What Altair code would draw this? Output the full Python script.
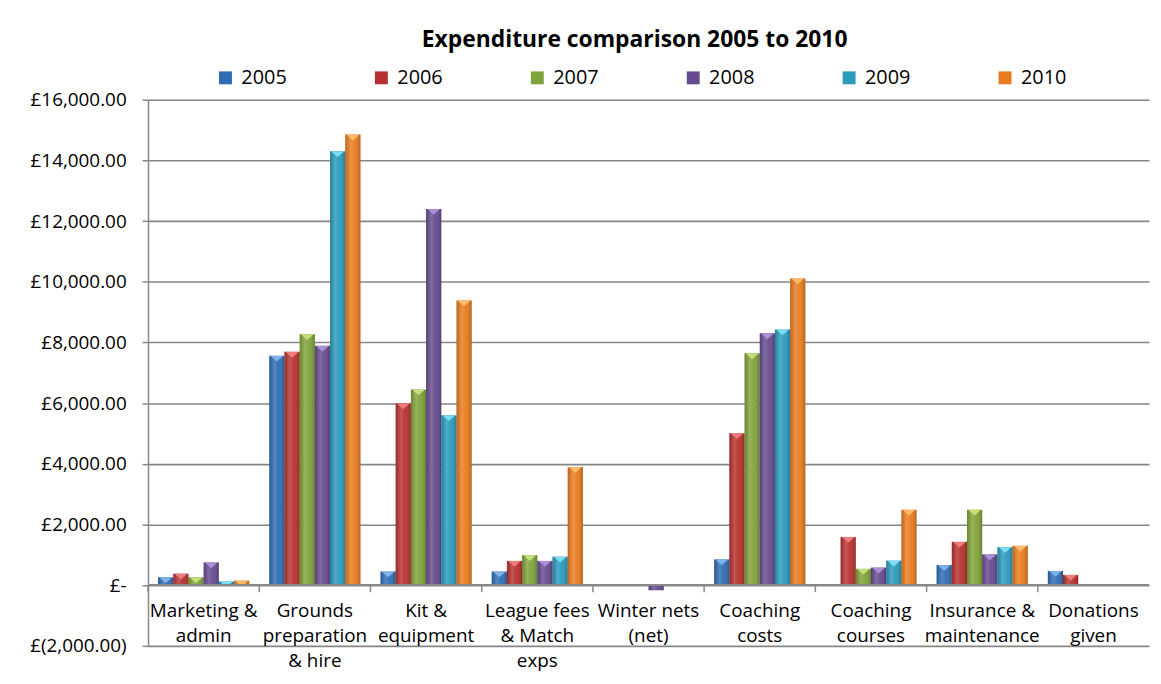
import altair as alt
import pandas as pd

categories = [
    "Marketing & admin",
    "Grounds preparation & hire",
    "Kit & equipment",
    "League fees & Match exps",
    "Winter nets (net)",
    "Coaching costs",
    "Coaching courses",
    "Insurance & maintenance",
    "Donations given",
]
category_lines = [
    ["Marketing &", "admin"],
    ["Grounds", "preparation", "& hire"],
    ["Kit &", "equipment"],
    ["League fees", "& Match", "exps"],
    ["Winter nets", "(net)"],
    ["Coaching", "costs"],
    ["Coaching", "courses"],
    ["Insurance &", "maintenance"],
    ["Donations", "given"],
]
years = ["2005", "2006", "2007", "2008", "2009", "2010"]
v2005 = [260, 7560, 450, 450, 0, 850, 0, 665, 470]
v2006 = [380, 7690, 5990, 800, 25, 5010, 1590, 1430, 340]
v2007 = [260, 8270, 6450, 990, 0, 7640, 540, 2490, 40]
v2008 = [750, 7890, 12400, 800, -170, 8300, 580, 1015, 30]
v2009 = [120, 14300, 5600, 940, 0, 8430, 810, 1255, 0]
v2010 = [150, 14850, 9380, 3890, 0, 10110, 2490, 1300, 0]
y_ticks = [-2000, 0, 2000, 4000, 6000, 8000, 10000, 12000, 14000, 16000]
colors = ["#2f6db3", "#b83130", "#80a23a", "#664b8f", "#2a9bbd", "#e87b1f"]
light_colors = ["#7fb2ea", "#ec7d7b", "#c4e07a", "#ad8fd6", "#7ddcf2", "#fdbb6a"]

series = [v2005, v2006, v2007, v2008, v2009, v2010]
rows = []
for y, vals in zip(years, series):
    for c, v in zip(categories, vals):
        rows.append({"category": c, "year": y, "value": v})
df = pd.DataFrame(rows)
cat_df = pd.DataFrame({
    "category": categories,
    "label": ["|".join(lines) for lines in category_lines],
})

FONT = "Open Sans"

y_label_expr = (
    "datum.value == 0 ? '£-\u2007\u2009' : "
    "(datum.value < 0 ? '£(' + format(-datum.value, ',.2f') + ')' : "
    "'£' + format(datum.value, ',.2f') + '\u2009')"
)

y_enc = alt.Y(
    "value:Q",
    scale=alt.Scale(domain=[-2000, 16000], nice=False, zero=True),
    axis=alt.Axis(
        title=None,
        orient="left",
        values=y_ticks,
        labelExpr=y_label_expr,
        labelFont=FONT,
        labelFontSize=19,
        labelColor="#000000",
        labelPadding=16,
        tickSize=6,
        tickColor="#888888",
        tickWidth=1.5,
        domainColor="#888888",
        domainWidth=1.5,
        grid=True,
        gridColor="#868686",
        gridWidth=1.6,
    ),
)

x_off = alt.XOffset("year:N", sort=years, scale=alt.Scale(paddingInner=0, paddingOuter=0))

bars = alt.Chart(df).mark_bar(stroke=None).encode(
    x=alt.X(
        "category:N",
        sort=categories,
        scale=alt.Scale(paddingInner=0.18, paddingOuter=0.09),
        axis=None,
    ),
    xOffset=x_off,
    y=y_enc,
    color=alt.Color(
        "year:N",
        sort=years,
        scale=alt.Scale(domain=years, range=colors),
        legend=alt.Legend(
            title=None,
            orient="none",
            legendX=68,
            legendY=-32,
            direction="horizontal",
            columns=6,
            gridAlign="all",
            columnPadding=85,
            symbolType="square",
            symbolSize=169,
            symbolStrokeWidth=0,
            labelFont=FONT,
            labelFontSize=20,
            labelColor="#000000",
            labelOffset=6,
            padding=0,
        ),
    ),
)

shade = alt.Gradient(
    gradient="linear",
    x1=0, x2=1, y1=0, y2=0,
    stops=[
        alt.GradientStop(color="rgba(0,0,0,0.18)", offset=0),
        alt.GradientStop(color="rgba(255,255,255,0.18)", offset=0.35),
        alt.GradientStop(color="rgba(255,255,255,0.05)", offset=0.6),
        alt.GradientStop(color="rgba(0,0,0,0.22)", offset=1),
    ],
)
overlay = alt.Chart(df).mark_bar(color=shade).encode(
    x=alt.X("category:N", sort=categories, axis=None),
    xOffset=alt.XOffset("year:N", sort=years),
    y=alt.Y("value:Q"),
)

caps = (
    alt.Chart(df)
    .transform_filter("datum.value >= 100")
    .mark_point(
        shape="M-1,-0.45L1,-0.45L0,0.45Z",
        filled=True,
        size=160,
        opacity=1,
        yOffset=3,
    )
    .encode(
        x=alt.X("category:N", sort=categories, axis=None),
        xOffset=alt.XOffset("year:N", sort=years),
        y=alt.Y("value:Q"),
        color=alt.Color("year:N", sort=years, scale=alt.Scale(domain=years, range=light_colors), legend=None),
    )
)

# category axis: zero line, separator ticks and wrapped labels
zero_line = alt.Chart(cat_df).mark_rule(color="#888888", strokeWidth=1.6).encode(
    y=alt.datum(0),
)

ticks = alt.Chart(cat_df).mark_rule(
    color="#888888", strokeWidth=1.5, xOffset=-56
).encode(
    x=alt.X("category:N", sort=categories, axis=None),
    y=alt.Y("zero:Q"),
    y2=alt.Y2("below:Q"),
).transform_calculate(zero="0", below="-230")

cat_labels = alt.Chart(cat_df).transform_calculate(
    lines="split(datum.label, '|')"
).mark_text(
    baseline="top",
    align="center",
    dy=17,
    font=FONT,
    fontSize=19,
    lineHeight=25,
    color="#000000",
).encode(
    x=alt.X("category:N", sort=categories, axis=None),
    y=alt.datum(0),
    text=alt.Text("lines:N"),
)

chart = (
    alt.layer(bars, overlay, caps, zero_line, ticks, cat_labels)
    .resolve_scale(color="independent")
    .properties(
        width=1008,
        height=550,
        padding={"left": 141, "top": 90, "right": 4, "bottom": 28},
        autosize=alt.AutoSizeParams(type="none"),
        title=alt.TitleParams(
            "Expenditure comparison 2005 to 2010",
            font=FONT,
            fontSize=23,
            fontWeight="bold",
            color="#000000",
            anchor="middle",
            dx=-14,
            offset=16,
        ),
    )
    .configure(background="#ffffff")
    .configure_view(strokeWidth=0, stroke="transparent")
)

chart.save("out.html", embed_options={"renderer": "svg", "actions": False})
